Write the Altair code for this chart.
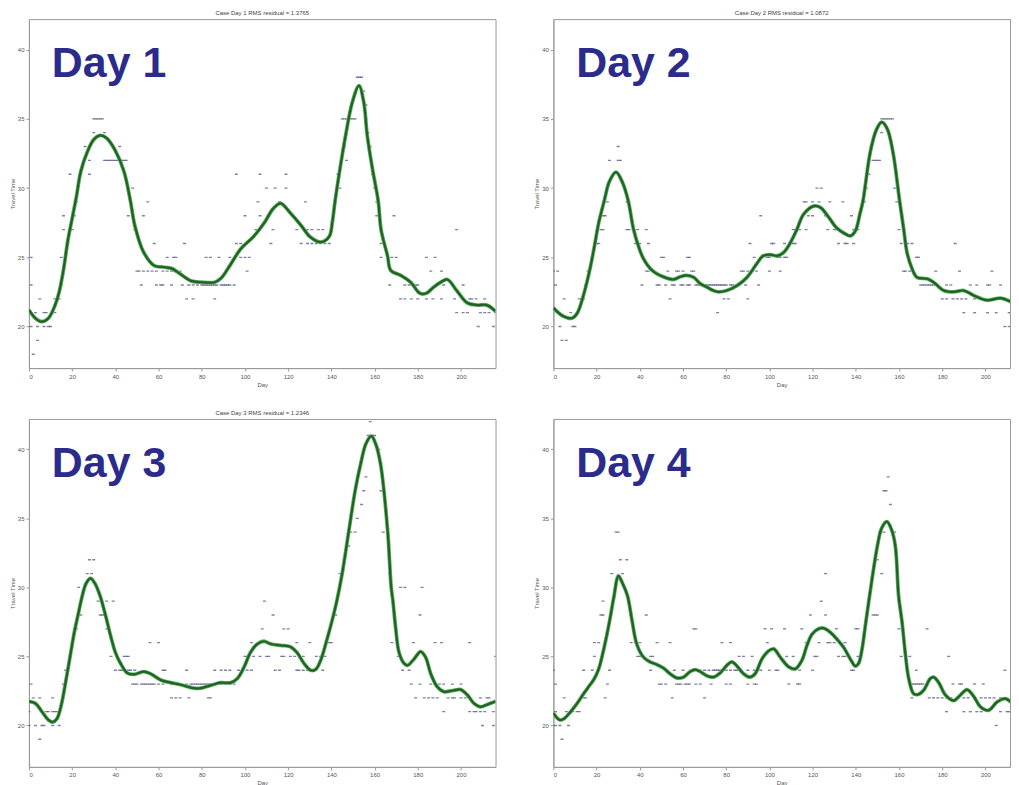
import altair as alt
import pandas as pd

# ---------------- data ----------------
X_TICKS = [0, 20, 40, 60, 80, 100, 120, 140, 160, 180, 200]
Y_TICKS = [20, 25, 30, 35, 40]

LABELS = ["Day 1", "Day 2", "Day 3", "Day 4"]
TITLES = [
    "Case Day 1  RMS residual = 1.3765",
    "Case Day 2  RMS residual = 1.0872",
    "Case Day 3  RMS residual = 1.2346",
    " ",
]

DAY1_CURVE_X = [0, 3, 6, 9, 12, 14, 16, 18, 20, 22, 24, 27, 30, 33, 36, 40, 44, 47, 49, 53, 58, 62, 66,
                70, 75, 80, 86, 89, 93, 98, 104, 109, 113, 116.5, 121, 126, 130, 135, 139, 140.5, 141.7,
                144, 146.6, 149.7, 152.8, 155, 156.6, 159, 161.7, 163, 166, 167.5, 172, 176.7, 181, 184,
                187, 190.6, 193.7, 198, 203, 207.6, 212, 216]
DAY1_CURVE_Y = [21.2, 20.6, 20.35, 20.6, 21.5, 22.5, 24.1, 26.2, 27.8, 29.4, 31.2, 32.6, 33.5, 33.8, 33.6,
                32.7, 31.2, 29.05, 27.3, 25.4, 24.4, 24.3, 24.2, 23.8, 23.3, 23.2, 23.2, 23.5, 24.4, 25.6,
                26.5, 27.5, 28.5, 28.9, 28.2, 27.3, 26.5, 26.1, 26.5, 27.6, 29.05, 31.4, 33.8, 36.2, 37.4,
                36.2, 33.8, 31.4, 29.05, 27.0, 25.1, 24.05, 23.7, 23.2, 22.4, 22.4, 22.8, 23.2, 23.4, 22.6,
                21.7, 21.55, 21.55, 21.1]
DAY1_DOTS = {
    18: [2], 19: [4],
    20: [1, 4, 7, 9, 10, 208, 215],
    21: [3, 7, 8, 12, 198, 201, 203, 209, 211, 213, 216],
    22: [5, 12, 13, 14, 73, 76, 86, 172, 174, 177, 180, 184, 187, 191, 197, 204, 205, 207, 211],
    23: [1, 15, 52, 59, 61, 62, 66, 71, 74, 76, 78, 80, 81, 82, 83, 84, 85, 86, 87, 89, 90, 91, 92, 93,
         95, 167, 174, 176, 178, 179, 180, 192, 201],
    24: [50, 51, 53, 55, 57, 59, 62, 64, 66, 68, 70, 101, 186, 191],
    25: [1, 15, 64, 67, 68, 82, 84, 88, 93, 98, 100, 102, 163, 168, 170, 184, 188],
    26: [18, 58, 72, 96, 98, 112, 126, 129, 131, 133, 135, 137, 139, 163],
    27: [16, 19, 20, 49, 105, 113, 124, 129, 131, 134, 136, 198],
    28: [16, 21, 46, 53, 100, 107, 111, 161, 169],
    29: [22, 55, 106, 116, 128, 142, 161],
    30: [48, 110, 114, 119, 144, 160],
    31: [19, 24, 28, 96, 107, 119, 143, 159],
    32: [28, 35, 36, 37, 38, 39, 40, 41, 42, 43, 44, 45, 147],
    33: [26, 42, 146, 158],
    34: [30, 35, 157],
    35: [30, 31, 32, 33, 34, 145, 146, 147, 148, 149, 150, 151, 156],
    36: [156], 37: [155], 38: [152, 153, 154],
}

DAY2_CURVE_X = [0, 4, 8.5, 11, 14, 17, 19, 21, 23.5, 26, 29, 32, 34.7, 37, 39.4, 41.7, 44.8, 48, 52.5,
                55.6, 58.7, 61.8, 65, 68, 71, 74, 76.4, 80.3, 85, 89.6, 94, 97, 100.4, 103.5, 106.6,
                109.7, 112.7, 115.8, 120.5, 123.6, 127.4, 131.3, 135, 137.5, 139.8, 142, 143.3, 146.7,
                149.5, 152, 154.5, 157.2, 160.3, 162.2, 163.7, 166, 168.3, 173, 176, 180.7, 185.3, 190,
                194.6, 200.8, 207, 211.6, 215.8]
DAY2_CURVE_Y = [21.35, 20.8, 20.6, 20.95, 22.3, 24.2, 25.8, 27.5, 29.05, 30.5, 31.15, 30.4, 29.05, 27.1,
                25.8, 24.9, 24.2, 23.8, 23.5, 23.4, 23.6, 23.7, 23.55, 23.1, 22.85, 22.6, 22.5, 22.6,
                22.95, 23.55, 24.5, 25.1, 25.2, 25.1, 25.35, 26.05, 27.0, 28.1, 28.7, 28.6, 27.9, 27.1,
                26.7, 26.55, 26.9, 28.2, 29.05, 32.6, 34.2, 34.76, 34.3, 32.6, 29.05, 27.0, 25.35, 24.2,
                23.55, 23.45, 23.2, 22.6, 22.5, 22.6, 22.25, 21.9, 22.05, 21.8, 21.45]
DAY2_DOTS = {
    19: [4, 6],
    20: [3, 9, 10, 209, 211, 215],
    21: [8, 76, 190, 195, 201, 205, 211, 212],
    22: [5, 12, 13, 14, 54, 79, 81, 90, 180, 182, 185, 187, 189, 191, 195, 199, 203, 207, 213, 215],
    23: [1, 15, 41, 48, 49, 52, 55, 56, 59, 60, 62, 63, 66, 67, 68, 69, 70, 71, 72, 73, 74, 75, 76, 77,
         78, 79, 80, 82, 83, 85, 86, 89, 95, 170, 171, 172, 173, 174, 175, 176, 182, 184, 193, 196, 201,
         202, 207],
    24: [0, 2, 16, 43, 44, 53, 57, 58, 60, 64, 65, 87, 88, 90, 92, 94, 100, 105, 162, 163, 165, 177, 188,
         203],
    25: [18, 50, 51, 62, 63, 93, 97, 99, 100, 104, 105, 107, 108, 168, 169],
    26: [19, 20, 21, 38, 39, 40, 44, 91, 101, 102, 107, 110, 111, 112, 132, 135, 136, 139, 161, 163, 164,
         166, 186],
    27: [22, 23, 34, 35, 37, 39, 43, 111, 112, 113, 114, 117, 127, 130, 131, 139, 140, 141, 160],
    28: [23, 24, 96, 118, 120, 126, 138],
    29: [25, 34, 116, 117, 120, 123, 128, 134, 144, 159],
    30: [122, 124, 145, 158],
    31: [146],
    32: [26, 30, 31, 148, 149, 150, 151],
    33: [30, 147],
    34: [152],
    35: [152, 153, 154, 155, 156, 157],
}

DAY3_CURVE_X = [0, 3, 6, 9, 11, 13, 15, 17, 19, 21, 23, 24.7, 26.5, 28.5, 30.5, 32.9, 35.5, 37.8, 40,
                42.4, 45.5, 48.6, 53.2, 56.3, 61, 65.6, 70.2, 76.4, 79.5, 84, 88.7, 93.4, 96.5, 99.5,
                102.6, 105.7, 108.8, 111.9, 116.5, 121, 124, 127.3, 130.4, 132.7, 135, 138, 140.5, 142.5,
                145, 148, 151, 153.5, 156, 158.5, 160.5, 162.8, 166, 167.7, 168.5, 169.8, 171.3, 173.6,
                175.2, 178.2, 181.3, 183.6, 186, 189, 192, 196.8, 199.8, 203, 206, 209, 212, 216]
DAY3_CURVE_Y = [21.75, 21.6, 21.0, 20.4, 20.25, 20.5, 21.5, 23.15, 24.95, 26.75, 28.2, 29.4, 30.3, 30.65,
                30.3, 29.4, 27.95, 26.5, 25.3, 24.5, 23.8, 23.7, 23.9, 23.75, 23.3, 23.1, 22.95, 22.7,
                22.7, 22.9, 23.1, 23.1, 23.4, 24.2, 25.3, 25.9, 26.1, 25.9, 25.8, 25.7, 25.3, 24.5, 24.0,
                24.05, 24.7, 26.25, 27.7, 29.0, 31.0, 34.0, 37.0, 38.9, 40.4, 40.95, 40.4, 38.9, 34.2,
                30.0, 29.0, 27.0, 25.3, 24.5, 24.35, 24.8, 25.35, 24.95, 23.75, 22.8, 22.45, 22.55, 22.6,
                22.2, 21.6, 21.35, 21.5, 21.75]
DAY3_DOTS = {
    19: [5],
    20: [0, 3, 6, 7, 11, 14, 210, 215],
    21: [0, 8, 9, 11, 12, 13, 192, 204, 206, 207, 209, 211, 215],
    22: [2, 5, 11, 66, 68, 70, 74, 83, 84, 179, 183, 185, 187, 189, 194, 196, 197, 200, 202, 209, 212, 213],
    23: [1, 16, 48, 49, 50, 52, 53, 54, 55, 56, 57, 58, 60, 62, 66, 68, 70, 73, 75, 76, 77, 78, 79, 80, 81,
         82, 83, 84, 86, 87, 89, 91, 93, 95, 177, 181, 186, 188, 190, 192, 196, 200],
    24: [17, 40, 42, 43, 44, 46, 47, 49, 62, 63, 73, 86, 89, 91, 93, 97, 101, 103, 114, 116, 124, 125, 127,
         129, 132, 136, 173, 176],
    25: [38, 44, 45, 46, 100, 101, 104, 107, 110, 111, 117, 118, 121, 123, 127, 133, 135, 137, 171, 216],
    26: [20, 56, 60, 103, 112, 124, 130, 139, 140, 168, 178, 188, 191, 204],
    27: [21, 22, 36, 108, 118, 120],
    28: [24, 33, 34, 35, 113, 142, 181],
    29: [32, 36, 39, 109],
    30: [23, 172, 174, 182],
    31: [27, 29, 144, 167],
    32: [28, 30, 146],
    33: [148],
    34: [149, 151, 164],
    35: [152], 36: [154], 37: [155, 163], 38: [156], 39: [163], 40: [162],
    41: [157, 158, 159, 160], 42: [158],
}

DAY4_CURVE_X = [0, 3, 5, 8, 11, 14, 17, 19, 21, 23, 25, 26.3, 28, 30.1, 32, 34.3, 36.3, 38.6, 41.7, 44.8,
                48, 51, 54, 57, 60.2, 63.3, 65.6, 68, 71, 74, 77.2, 80.3, 82.6, 85, 88, 91, 93.4, 96.5,
                99.6, 102, 105, 108.9, 112, 115, 117.4, 119.7, 122.8, 125, 128.2, 131.3, 134.4, 137.5,
                139.8, 141.3, 142.9, 144.4, 146.2, 150, 152, 154.4, 156.5, 158.3, 159.8, 161.4, 163,
                164.5, 166.8, 169, 171.4, 174.5, 176, 178.4, 181.5, 185.3, 188.4, 191.5, 194.6, 197.7,
                201.5, 205.4, 209.3, 212.4, 215.8]
DAY4_CURVE_Y = [20.9, 20.4, 20.5, 21.0, 21.6, 22.3, 22.95, 23.4, 24.1, 25.3, 26.75, 27.8, 29.3, 30.83,
                30.3, 29.4, 27.7, 25.9, 24.95, 24.6, 24.4, 24.15, 23.75, 23.45, 23.5, 23.9, 24.05, 23.9,
                23.6, 23.5, 23.8, 24.35, 24.6, 24.3, 23.75, 23.5, 23.75, 24.8, 25.4, 25.55, 24.95, 24.25,
                24.1, 24.7, 25.8, 26.6, 27.0, 27.05, 26.75, 26.25, 25.65, 24.8, 24.3, 24.5, 25.55, 27.2,
                29.2, 33.0, 34.3, 34.76, 34.2, 33.0, 29.4, 27.5, 25.1, 23.4, 22.3, 22.25, 22.55, 23.4,
                23.5, 23.1, 22.2, 21.8, 22.2, 22.6, 22.1, 21.35, 21.1, 21.7, 21.95, 21.6, 20.9]
DAY4_DOTS = {
    18: [213], 19: [4],
    20: [1, 3, 7, 205, 216],
    21: [1, 6, 8, 9, 11, 12, 182, 190, 193, 196, 198, 207, 210, 211, 213, 214],
    22: [5, 14, 15, 24, 55, 70, 166, 174, 176, 178, 180, 182, 184, 187, 190, 192, 198, 200, 202, 204, 207,
         209],
    23: [1, 25, 49, 50, 52, 57, 58, 59, 61, 62, 63, 66, 68, 73, 80, 82, 90, 93, 94, 109, 113, 114, 165, 166,
         167, 168, 169, 170, 171, 185, 188, 189, 195, 199],
    24: [0, 14, 18, 26, 45, 56, 60, 66, 68, 70, 72, 74, 75, 76, 77, 80, 82, 84, 85, 90, 93, 96, 100, 103,
         104, 114, 120, 138, 139, 164, 168, 209],
    25: [19, 39, 40, 45, 46, 86, 88, 92, 108, 111, 121, 122, 132, 134, 135, 141, 142, 161, 165, 183],
    26: [19, 21, 36, 38, 40, 48, 54, 78, 82, 99, 117, 123, 127, 128, 130, 135],
    27: [65, 66, 98, 101, 107, 115, 131, 140, 141, 160, 173],
    28: [22, 23, 36, 43, 119, 126, 148, 149, 150],
    29: [23, 124, 160],
    31: [27, 32, 126, 152],
    32: [31, 34, 150],
    34: [29, 30, 151, 153, 158],
    36: [156], 37: [153, 154], 38: [155],
}

# ---------------- styling ----------------
FONT = "Liberation Sans"
DOT_COLOR = "#4a4a82"
HALO_COLOR = "#58b45b"
LINE_COLOR = "#245e28"
LABEL_COLOR = "#2b2b8c"
Y_DOMAIN = [17, 42.2]


def dots_frame(d):
    rows = [{"day": day, "val": v} for v, days in d.items() for day in days]
    return pd.DataFrame(rows)


def panel(label, title, cx, cy, dots, xmax, w, h):
    xs = alt.Scale(domain=[0, xmax], nice=False, zero=False)
    ys = alt.Scale(domain=Y_DOMAIN, nice=False, zero=False)
    xax = alt.Axis(values=X_TICKS, title="Day", grid=False, tickSize=3, labelPadding=2,
                   titlePadding=2)
    yax = alt.Axis(values=Y_TICKS, title="Travel Time", grid=False, tickSize=3, labelPadding=2,
                   titlePadding=2)
    x = alt.X("day:Q", scale=xs, axis=xax)
    y = alt.Y("val:Q", scale=ys, axis=yax)

    pts = alt.Chart(dots_frame(dots)).mark_point(
        shape="M-1,-0.45L1,-0.45L1,0.45L-1,0.45Z", size=9, filled=True,
        color=DOT_COLOR, opacity=0.7, clip=True
    ).encode(x=x, y=y)

    curve = pd.DataFrame({"day": cx, "val": cy})
    halo = alt.Chart(curve).mark_line(
        color=HALO_COLOR, strokeWidth=3.8, interpolate="catmull-rom", clip=True
    ).encode(x=x, y=y)
    core = alt.Chart(curve).mark_line(
        color=LINE_COLOR, strokeWidth=2.2, interpolate="catmull-rom", clip=True
    ).encode(x=x, y=y)

    lab = alt.Chart(pd.DataFrame({"t": [label]})).mark_text(
        align="left", baseline="alphabetic", font=FONT, fontWeight="bold",
        fontSize=43, color=LABEL_COLOR
    ).encode(text="t:N", x=alt.value(23), y=alt.value(58))

    return alt.layer(pts, halo, core, lab).properties(
        width=w, height=h,
        title=alt.TitleParams(title, fontSize=6, offset=3, color="#444444",
                              fontWeight="normal", font=FONT),
    )


W_LEFT, W_RIGHT = 468, 458
X_MAX_LEFT = 216
X_MAX_RIGHT = 216 * W_RIGHT / W_LEFT

p1 = panel(LABELS[0], TITLES[0], DAY1_CURVE_X, DAY1_CURVE_Y, DAY1_DOTS, X_MAX_LEFT, W_LEFT, 350)
p2 = panel(LABELS[1], TITLES[1], DAY2_CURVE_X, DAY2_CURVE_Y, DAY2_DOTS, X_MAX_RIGHT, W_RIGHT, 350)
p3 = panel(LABELS[2], TITLES[2], DAY3_CURVE_X, DAY3_CURVE_Y, DAY3_DOTS, X_MAX_LEFT, W_LEFT, 349)
p4 = panel(LABELS[3], TITLES[3], DAY4_CURVE_X, DAY4_CURVE_Y, DAY4_DOTS, X_MAX_RIGHT, W_RIGHT, 349)

row1 = alt.hconcat(p1, p2, spacing=36)
row2 = alt.hconcat(p3, p4, spacing=36)

chart = alt.vconcat(row1, row2, spacing=21).properties(
    padding=0, background="white"
).configure_view(
    stroke="#9a9a9a", strokeWidth=1
).configure_axis(
    domainColor="#9a9a9a", tickColor="#9a9a9a", labelColor="#555555", titleColor="#555555",
    labelFontSize=6, titleFontSize=6, labelFont=FONT, titleFont=FONT, titleFontWeight="normal",
)

chart.save("out.html", embed_options={"renderer": "svg", "actions": False})
